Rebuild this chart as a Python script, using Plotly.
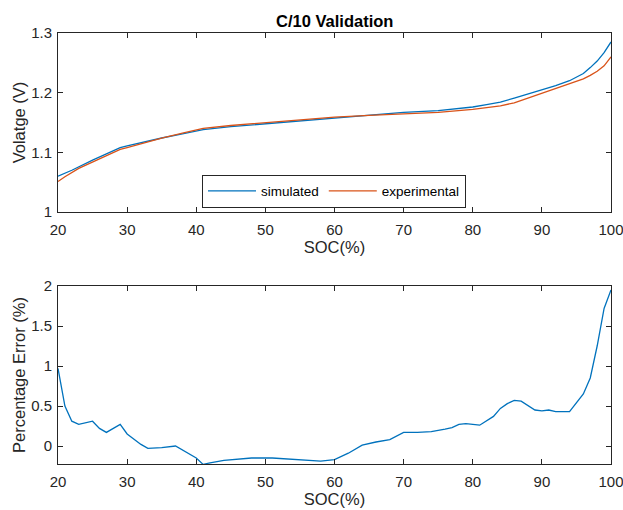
import plotly.graph_objects as go

# Top panel: voltage vs SOC
soc_sim = [20, 22, 25, 27, 29, 30, 33, 35, 38, 40, 41, 45, 50, 55, 60, 65, 70, 75, 80, 82, 84, 86, 88, 90, 92, 94, 95, 96, 97, 98, 99, 100]
v_sim = [1.060, 1.070, 1.087, 1.097, 1.108, 1.111, 1.119, 1.124, 1.131, 1.136, 1.138, 1.143, 1.148, 1.152, 1.157, 1.162, 1.167, 1.170, 1.176, 1.180, 1.184, 1.191, 1.198, 1.204, 1.212, 1.220, 1.226, 1.232, 1.242, 1.253, 1.267, 1.285]

soc_exp = [20, 21, 23, 25, 27, 29, 30, 33, 35, 38, 41, 45, 50, 55, 60, 65, 70, 75, 80, 84, 86, 88, 90, 92, 94, 96, 97, 98, 99, 100]
v_exp = [1.051, 1.059, 1.073, 1.084, 1.095, 1.105, 1.108, 1.118, 1.124, 1.132, 1.140, 1.145, 1.150, 1.155, 1.159, 1.162, 1.165, 1.167, 1.172, 1.178, 1.183, 1.191, 1.198, 1.206, 1.214, 1.223, 1.229, 1.236, 1.245, 1.260]

# Bottom panel: percentage error vs SOC
soc_err = [20, 21, 22, 23, 25, 26, 27, 29, 30, 32, 33, 35, 37, 39, 40, 41, 42, 44, 48, 51, 55, 58, 60, 62, 64, 66, 68, 70, 72, 74, 76, 77, 78, 79, 81, 83, 84, 85, 86, 87, 89, 90, 91, 92, 94, 96, 97, 98, 99, 100]
err = [0.97, 0.50, 0.31, 0.27, 0.31, 0.22, 0.17, 0.27, 0.15, 0.02, -0.03, -0.02, 0.00, -0.10, -0.15, -0.23, -0.21, -0.18, -0.15, -0.15, -0.17, -0.19, -0.17, -0.09, 0.01, 0.05, 0.08, 0.17, 0.17, 0.18, 0.21, 0.23, 0.27, 0.28, 0.26, 0.37, 0.47, 0.53, 0.57, 0.56, 0.45, 0.44, 0.45, 0.43, 0.43, 0.65, 0.85, 1.25, 1.72, 1.95]

x_ticks = [20, 30, 40, 50, 60, 70, 80, 90, 100]
v_ticks = [1, 1.1, 1.2, 1.3]
v_labels = ["1", "1.1", "1.2", "1.3"]
e_ticks = [0, 0.5, 1, 1.5, 2]
e_labels = ["0", "0.5", "1", "1.5", "2"]

BLUE = "#0072BD"
ORANGE = "#D95319"
AX = "#262626"
FONT = "Liberation Sans, Arial, sans-serif"

fig = go.Figure()
fig.add_trace(go.Scatter(x=soc_sim, y=v_sim, mode="lines", name="simulated",
                         line=dict(color=BLUE, width=1.3), xaxis="x", yaxis="y"))
fig.add_trace(go.Scatter(x=soc_exp, y=v_exp, mode="lines", name="experimental",
                         line=dict(color=ORANGE, width=1.3), xaxis="x", yaxis="y"))
fig.add_trace(go.Scatter(x=soc_err, y=err, mode="lines", showlegend=False,
                         line=dict(color=BLUE, width=1.3), xaxis="x2", yaxis="y2"))

H = 510
def dom(top_px, bot_px):
    return [(H - bot_px) / H, (H - top_px) / H]

axis_common = dict(showline=True, linecolor=AX, linewidth=1, mirror="ticks",
                   ticks="inside", ticklen=5, tickcolor=AX, showgrid=False,
                   zeroline=False, tickfont=dict(family=FONT, size=15, color=AX),
                   automargin=False, ticklabeloverflow="allow")
xt = dict(ticklabelstandoff=4)
yt = dict(ticklabelstandoff=2)
TFONT = dict(family=FONT, size=16.5, color=AX)

fig.update_layout(
    width=623, height=510,
    margin=dict(l=58, r=12, t=0, b=0),
    paper_bgcolor="white", plot_bgcolor="white",
    font=dict(family=FONT, color=AX),
    xaxis=dict(domain=[0, 1], range=[20, 100], tickvals=x_ticks, anchor="y",
               title=dict(text="SOC(%)", font=TFONT, standoff=3),
               **axis_common, **xt),
    yaxis=dict(domain=dom(33, 212), range=[1, 1.3], tickvals=v_ticks, ticktext=v_labels,
               anchor="x",
               title=dict(text="Volatge (V)", font=TFONT, standoff=1),
               **axis_common, **yt),
    xaxis2=dict(domain=[0, 1], range=[20, 100], tickvals=x_ticks, anchor="y2",
                title=dict(text="SOC(%)", font=TFONT, standoff=3),
                **axis_common, **xt),
    yaxis2=dict(domain=dom(286, 464), range=[-0.225, 2], tickvals=e_ticks, ticktext=e_labels,
                anchor="x2",
                title=dict(text="Percentage Error (%)", font=TFONT, standoff=1),
                **axis_common, **yt),
    legend=dict(orientation="h", x=(334 - 58) / (623 - 70), y=(H - 191) / H,
                xanchor="center", yanchor="middle",
                bordercolor=AX, borderwidth=1, bgcolor="white",
                font=dict(family=FONT, size=13.5, color="black"),
                itemwidth=48, tracegroupgap=0),
    annotations=[dict(text="<b>C/10 Validation</b>", x=0.5, y=(H - 21) / H,
                      xref="paper", yref="paper", showarrow=False,
                      xanchor="center", yanchor="middle",
                      font=dict(family=FONT, size=16.5, color="black"))],
)

fig.write_html("out.html")
